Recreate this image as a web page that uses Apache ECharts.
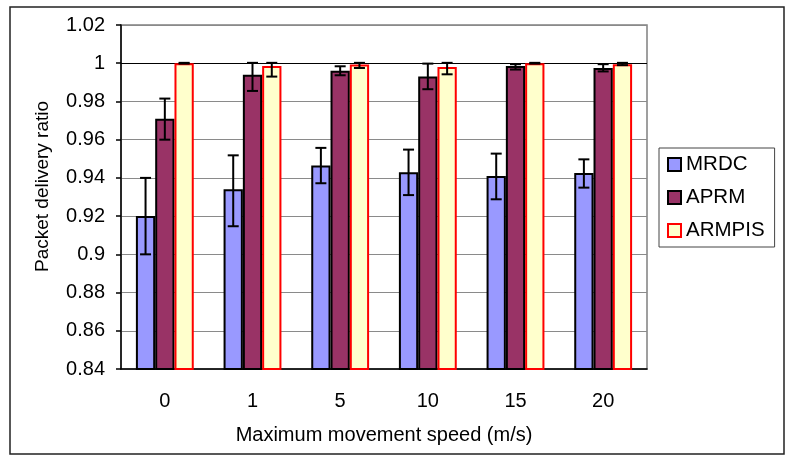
<!DOCTYPE html>
<html>
<head>
<meta charset="utf-8">
<script src="https://cdn.jsdelivr.net/npm/echarts@6/dist/echarts.min.js"></script>
<style>
html,body{margin:0;padding:0;background:#fff;}
#chart{width:793px;height:459px;}
</style>
</head>
<body>
<div id="chart"></div>
<script>
var categories = ['0', '1', '5', '10', '15', '20'];
var seriesNames = ['MRDC', 'APRM', 'ARMPIS'];

var mrdc = [0.920, 0.934, 0.9465, 0.943, 0.941, 0.9425];
var aprm = [0.971, 0.994, 0.996, 0.993, 0.9985, 0.9975];
var armpis = [1.0, 0.9985, 0.9993, 0.998, 1.0, 0.9995];

var mrdcLow = [0.900, 0.9147, 0.9372, 0.931, 0.9288, 0.9349];
var mrdcHigh = [0.940, 0.9518, 0.9557, 0.9548, 0.9527, 0.9497];
var aprmLow = [0.960, 0.9855, 0.9937, 0.9864, 0.9967, 0.9957];
var aprmHigh = [0.9815, 1.0002, 0.9984, 0.9998, 0.9995, 0.9995];
var armpisLow = [0.9998, 0.993, 0.9975, 0.9942, 0.9998, 0.9990];
var armpisHigh = [1.0002, 1.0002, 1.0002, 1.0002, 1.0002, 1.0002];

var yMin = 0.84, yMax = 1.02, yStep = 0.02;

var fills = ['#9999FF', '#993366', '#FFFFCC'];
var borders = ['#000000', '#000000', '#FF0000'];
var CAT_GAP = 0.34;

function errSeries(idx, low, high) {
  var data = low.map(function (l, i) { return [i, l, high[i]]; });
  return {
    type: 'custom',
    name: seriesNames[idx] + ' error',
    data: data,
    z: 10,
    silent: true,
    encode: { x: 0, y: [1, 2] },
    renderItem: function (params, api) {
      var c = api.value(0);
      var band = api.size([1, 0])[0];
      var barW = band * (1 - CAT_GAP) / 3;
      var off = (idx - 1) * barW;
      var pLow = api.coord([c, api.value(1)]);
      var pHigh = api.coord([c, api.value(2)]);
      var x = pLow[0] + off;
      var cap = 5.5;
      var st = { stroke: '#000', lineWidth: 2 };
      return {
        type: 'group',
        children: [
          { type: 'line', shape: { x1: x, y1: pLow[1], x2: x, y2: pHigh[1] }, style: st },
          { type: 'line', shape: { x1: x - cap, y1: pLow[1], x2: x + cap, y2: pLow[1] }, style: st },
          { type: 'line', shape: { x1: x - cap, y1: pHigh[1], x2: x + cap, y2: pHigh[1] }, style: st }
        ]
      };
    }
  };
}

function barSeries(idx, values) {
  return {
    type: 'bar',
    name: seriesNames[idx],
    data: values,
    barGap: '0%',
    barCategoryGap: (CAT_GAP * 100) + '%',
    itemStyle: { color: fills[idx], borderColor: borders[idx], borderWidth: 2 }
  };
}

var gridColors = [];
for (var k = 0; k <= Math.round((yMax - yMin) / yStep); k++) {
  var v = +(yMin + k * yStep).toFixed(2);
  gridColors.push(v === 1 ? '#000000' : '#8a8a8a');
}

var chart = echarts.init(document.getElementById('chart'), null, { renderer: 'canvas' });
chart.setOption({
  backgroundColor: '#ffffff',
  animation: false,
  textStyle: { fontFamily: 'Liberation Sans, Arial, sans-serif', color: '#000' },
  graphic: [{
    type: 'rect',
    shape: { x: 10, y: 7, width: 774, height: 447 },
    style: { fill: 'none', stroke: '#222', lineWidth: 1.5 },
    silent: true,
    z: -10
  }],
  grid: {
    left: 121, right: 146, top: 25, bottom: 90,
    show: true, borderColor: '#808080', borderWidth: 1.5, backgroundColor: '#fff'
  },
  legend: {
    data: seriesNames,
    orient: 'vertical',
    left: 659, top: 148,
    padding: [6, 10, 6, 8],
    itemGap: 12,
    itemWidth: 13, itemHeight: 13,
    icon: 'rect',
    borderColor: '#444', borderWidth: 1,
    textStyle: { fontSize: 20.5, color: '#000', fontFamily: 'Liberation Sans, Arial, sans-serif' }
  },
  xAxis: {
    type: 'category',
    data: categories,
    name: 'Maximum movement speed (m/s)',
    nameLocation: 'middle',
    nameGap: 56,
    nameTextStyle: { fontSize: 20, color: '#000' },
    axisLine: { lineStyle: { color: '#000', width: 1.5 } },
    axisTick: { length: 6, lineStyle: { color: '#000', width: 1.5 } },
    axisLabel: { fontSize: 20, color: '#000', margin: 22 }
  },
  yAxis: {
    type: 'value',
    min: yMin, max: yMax, interval: yStep,
    name: 'Packet delivery ratio',
    nameLocation: 'middle',
    nameGap: 69,
    nameTextStyle: { fontSize: 19, color: '#000', padding: [0, 0, 0, 21] },
    axisLine: { show: true, lineStyle: { color: '#000', width: 1.5 } },
    axisTick: { show: true, length: 5, lineStyle: { color: '#000', width: 1.5 } },
    axisLabel: {
      fontSize: 20, color: '#000', margin: 16,
      formatter: function (v) { return String(parseFloat(v.toFixed(2))); }
    },
    splitLine: { show: true, lineStyle: { color: gridColors, width: 1 } }
  },
  series: [
    barSeries(0, mrdc),
    barSeries(1, aprm),
    barSeries(2, armpis),
    errSeries(0, mrdcLow, mrdcHigh),
    errSeries(1, aprmLow, aprmHigh),
    errSeries(2, armpisLow, armpisHigh)
  ]
});
</script>
</body>
</html>
